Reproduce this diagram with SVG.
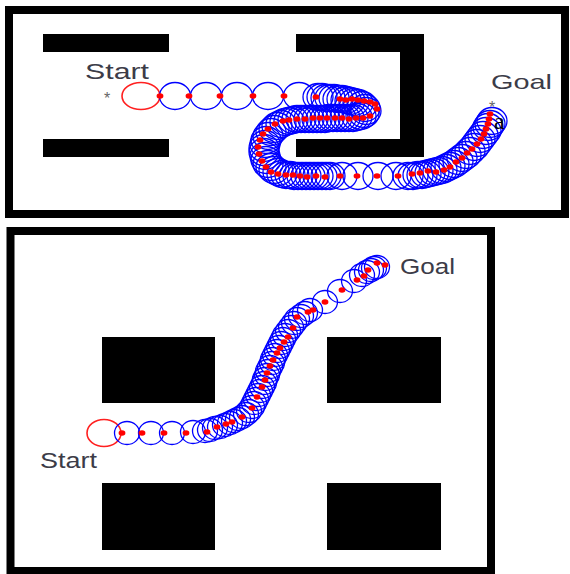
<svg xmlns="http://www.w3.org/2000/svg" width="570" height="574" viewBox="0 0 570 574">
<style>
.frame{fill:#fff;stroke:#000;stroke-width:8}
.wall{fill:#000}
.bc{fill:none;stroke:#0000ff;stroke-width:1.3}
.rc{fill:none;stroke:#ff2020;stroke-width:1.6}
.dot{fill:#ff0000}
.lbl{font-family:"Liberation Sans",Arial,sans-serif;fill:#3c3c48}
.star{font-family:"Liberation Sans",Arial,sans-serif;fill:#666;font-size:16px}
</style>
<defs>
<ellipse id="T" rx="15.5" ry="13.5" class="bc"/>
<ellipse id="t" rx="15" ry="13.5" class="bc"/>
<ellipse id="s" rx="12.5" ry="11.5" class="bc"/>
<ellipse id="d" rx="3.4" ry="2.7" class="dot"/>
</defs>
<rect width="570" height="574" fill="#fff"/>
<g id="panel-top">
<rect class="frame" x="9" y="10" width="556" height="204"/>
<rect class="wall" x="43" y="34" width="126" height="18"/>
<rect class="wall" x="43" y="139" width="126" height="18"/>
<rect class="wall" x="296" y="34" width="128" height="18"/>
<rect class="wall" x="400" y="34" width="24" height="123"/>
<rect class="wall" x="296" y="139" width="128" height="18"/>
<text class="lbl" x="85" y="79" font-size="22" textLength="64" lengthAdjust="spacingAndGlyphs">Start</text>
<text class="star" x="104" y="104">*</text>
<text class="lbl" x="491" y="89" font-size="21" textLength="61" lengthAdjust="spacingAndGlyphs">Goal</text>
<text class="star" x="489" y="113">*</text>
<ellipse class="rc" cx="141" cy="96" rx="19" ry="13.5"/>
<g id="top-robots">
<use href="#T" x="175" y="96"/><use href="#T" x="206" y="96"/><use href="#T" x="237" y="96"/><use href="#T" x="268" y="96"/><use href="#T" x="299" y="96"/>
<use href="#t" x="318" y="97"/><use href="#t" x="322" y="97"/><use href="#t" x="326" y="98"/><use href="#t" x="330" y="98"/><use href="#t" x="334" y="98"/><use href="#t" x="338" y="99"/><use href="#t" x="342" y="99"/><use href="#t" x="346" y="100"/><use href="#t" x="350" y="101"/><use href="#t" x="354" y="102"/><use href="#t" x="358" y="103"/>
<use href="#t" x="362" y="105"/><use href="#t" x="365" y="108"/><use href="#t" x="366" y="111"/><use href="#t" x="364" y="114"/><use href="#t" x="361" y="116"/><use href="#t" x="357" y="117"/>
<use href="#t" x="353" y="118"/><use href="#t" x="349" y="118"/><use href="#t" x="345" y="118"/><use href="#t" x="341" y="118"/><use href="#t" x="337" y="118"/><use href="#t" x="333" y="118"/><use href="#t" x="329" y="118"/><use href="#t" x="325" y="119"/><use href="#t" x="321" y="119"/><use href="#t" x="317" y="119"/><use href="#t" x="313" y="119"/><use href="#t" x="309" y="119"/><use href="#t" x="305" y="119"/><use href="#t" x="301" y="119"/><use href="#t" x="297" y="119"/><use href="#t" x="293" y="120"/><use href="#t" x="289" y="121"/>
<use href="#t" x="285" y="122"/><use href="#t" x="281" y="124"/><use href="#t" x="277" y="126"/><use href="#t" x="274" y="129"/><use href="#t" x="271" y="132"/><use href="#t" x="268" y="136"/><use href="#t" x="266" y="140"/><use href="#t" x="265" y="144"/><use href="#t" x="264" y="148"/><use href="#t" x="264" y="152"/><use href="#t" x="265" y="156"/><use href="#t" x="266" y="160"/><use href="#t" x="268" y="164"/><use href="#t" x="271" y="167"/><use href="#t" x="274" y="170"/><use href="#t" x="278" y="172"/><use href="#t" x="282" y="174"/><use href="#t" x="286" y="175"/><use href="#t" x="290" y="175"/><use href="#t" x="294" y="176"/><use href="#t" x="298" y="176"/><use href="#t" x="302" y="176"/><use href="#t" x="306" y="176"/><use href="#t" x="310" y="176"/><use href="#t" x="314" y="176"/><use href="#t" x="318" y="176"/><use href="#t" x="322" y="176"/><use href="#t" x="326" y="176"/><use href="#t" x="330" y="176"/>
<use href="#t" x="342" y="176"/><use href="#t" x="358" y="176"/><use href="#t" x="378" y="176"/><use href="#t" x="396" y="176"/>
<use href="#t" x="408" y="176"/><use href="#t" x="413" y="176"/><use href="#t" x="418" y="175"/><use href="#t" x="422" y="175"/><use href="#t" x="426" y="174"/><use href="#t" x="430" y="173"/><use href="#t" x="434" y="172"/><use href="#t" x="438" y="171"/><use href="#t" x="442" y="170"/><use href="#t" x="446" y="168"/><use href="#t" x="450" y="166"/><use href="#t" x="454" y="164"/><use href="#t" x="458" y="161"/><use href="#t" x="462" y="158"/><use href="#t" x="466" y="155"/><use href="#t" x="470" y="151"/><use href="#t" x="474" y="147"/><use href="#t" x="477" y="143"/><use href="#t" x="480" y="139"/><use href="#t" x="483" y="135"/><use href="#t" x="486" y="131"/><use href="#t" x="488" y="127"/><use href="#t" x="490" y="124"/><use href="#t" x="492" y="121"/>
</g>
<g id="top-dots">
<use href="#d" x="160" y="96"/><use href="#d" x="189" y="96"/><use href="#d" x="220" y="96"/><use href="#d" x="253" y="96"/><use href="#d" x="284" y="96"/><use href="#d" x="316" y="97"/>
<use href="#d" x="340" y="99"/><use href="#d" x="346" y="100"/><use href="#d" x="352" y="99"/><use href="#d" x="358" y="100"/><use href="#d" x="364" y="101"/><use href="#d" x="370" y="102"/><use href="#d" x="375" y="104"/><use href="#d" x="377" y="109"/>
<use href="#d" x="370" y="116"/><use href="#d" x="363" y="118"/><use href="#d" x="356" y="118"/><use href="#d" x="349" y="119"/><use href="#d" x="342" y="118"/><use href="#d" x="335" y="118"/><use href="#d" x="327" y="118"/><use href="#d" x="320" y="118"/><use href="#d" x="313" y="118"/><use href="#d" x="305" y="119"/><use href="#d" x="297" y="119"/><use href="#d" x="289" y="120"/><use href="#d" x="283" y="121"/>
<use href="#d" x="275" y="124"/><use href="#d" x="268" y="129"/><use href="#d" x="263" y="134"/><use href="#d" x="260" y="140"/><use href="#d" x="258" y="147"/><use href="#d" x="259" y="154"/><use href="#d" x="262" y="161"/><use href="#d" x="266" y="167"/><use href="#d" x="271" y="172"/><use href="#d" x="278" y="174"/><use href="#d" x="286" y="175"/><use href="#d" x="293" y="175"/><use href="#d" x="300" y="176"/><use href="#d" x="307" y="177"/><use href="#d" x="316" y="176"/><use href="#d" x="325" y="177"/><use href="#d" x="340" y="176"/><use href="#d" x="357" y="176"/><use href="#d" x="377" y="176"/><use href="#d" x="398" y="176"/>
<use href="#d" x="412" y="174"/><use href="#d" x="420" y="173"/><use href="#d" x="428" y="171"/><use href="#d" x="436" y="172"/><use href="#d" x="444" y="170"/><use href="#d" x="450" y="167"/><use href="#d" x="456" y="162"/><use href="#d" x="462" y="158"/><use href="#d" x="467" y="153"/><use href="#d" x="472" y="149"/><use href="#d" x="477" y="144"/><use href="#d" x="481" y="139"/><use href="#d" x="484" y="134"/><use href="#d" x="486" y="129"/><use href="#d" x="488" y="124"/><use href="#d" x="489" y="119"/><use href="#d" x="490" y="114"/>
</g>
<text x="494" y="129" font-family="Liberation Serif, Times New Roman, serif" font-size="24" fill="#000">a</text>
</g>
<g id="panel-bottom">
<rect class="frame" x="10.5" y="231" width="480.5" height="340"/>
<rect class="wall" x="102" y="337" width="113" height="66"/>
<rect class="wall" x="327" y="337" width="114" height="66"/>
<rect class="wall" x="102" y="483" width="113" height="67"/>
<rect class="wall" x="327" y="483" width="114" height="67"/>
<text class="lbl" x="40" y="468" font-size="22" textLength="57" lengthAdjust="spacingAndGlyphs">Start</text>
<text class="lbl" x="400" y="274" font-size="22" textLength="55" lengthAdjust="spacingAndGlyphs">Goal</text>
<ellipse class="rc" cx="104" cy="433" rx="17" ry="13.5"/>
<g id="bottom-robots">
<use href="#s" x="127" y="433"/><use href="#s" x="151" y="433"/><use href="#s" x="172" y="433"/><use href="#s" x="193" y="432"/>
<use href="#s" x="205" y="431"/><use href="#s" x="210" y="430"/><use href="#s" x="215" y="428"/><use href="#s" x="220" y="427"/><use href="#s" x="225" y="425"/><use href="#s" x="230" y="423"/><use href="#s" x="234" y="421"/><use href="#s" x="238" y="419"/><use href="#s" x="242" y="417"/><use href="#s" x="246" y="414"/><use href="#s" x="249" y="411"/><use href="#s" x="252" y="407"/><use href="#s" x="254" y="403"/><use href="#s" x="256" y="399"/><use href="#s" x="258" y="395"/><use href="#s" x="260" y="391"/><use href="#s" x="262" y="387"/><use href="#s" x="264" y="383"/><use href="#s" x="265" y="379"/><use href="#s" x="267" y="375"/><use href="#s" x="268" y="371"/><use href="#s" x="270" y="367"/><use href="#s" x="272" y="363"/><use href="#s" x="273" y="359"/><use href="#s" x="275" y="355"/><use href="#s" x="277" y="351"/><use href="#s" x="279" y="347"/><use href="#s" x="281" y="343"/><use href="#s" x="283" y="339"/><use href="#s" x="285" y="335"/><use href="#s" x="288" y="331"/><use href="#s" x="291" y="327"/><use href="#s" x="294" y="323"/><use href="#s" x="297" y="319"/><use href="#s" x="301" y="316"/><use href="#s" x="305" y="313"/><use href="#s" x="310" y="310"/>
<use href="#s" x="325" y="302"/><use href="#s" x="340" y="291"/><use href="#s" x="354" y="281"/><use href="#s" x="362" y="275"/><use href="#s" x="367" y="272"/><use href="#s" x="371" y="270"/><use href="#s" x="374" y="268"/><use href="#s" x="377" y="267"/>
</g>
<g id="bottom-dots">
<use href="#d" x="122" y="433"/><use href="#d" x="142" y="433"/><use href="#d" x="164" y="433"/><use href="#d" x="186" y="433"/><use href="#d" x="207" y="432"/><use href="#d" x="217" y="427"/><use href="#d" x="226" y="424"/><use href="#d" x="232" y="422"/><use href="#d" x="242" y="417"/><use href="#d" x="252" y="408"/><use href="#d" x="257" y="397"/><use href="#d" x="262" y="387"/><use href="#d" x="265" y="380"/><use href="#d" x="267" y="373"/><use href="#d" x="270" y="366"/><use href="#d" x="273" y="360"/><use href="#d" x="277" y="353"/><use href="#d" x="280" y="348"/><use href="#d" x="284" y="342"/><use href="#d" x="288" y="337"/><use href="#d" x="293" y="328"/><use href="#d" x="297" y="317"/><use href="#d" x="308" y="312"/><use href="#d" x="313" y="310"/><use href="#d" x="325" y="302"/><use href="#d" x="342" y="290"/><use href="#d" x="357" y="280"/><use href="#d" x="364" y="276"/><use href="#d" x="368" y="270"/><use href="#d" x="377" y="263"/><use href="#d" x="385" y="265"/>
</g>
</g>
</svg>
